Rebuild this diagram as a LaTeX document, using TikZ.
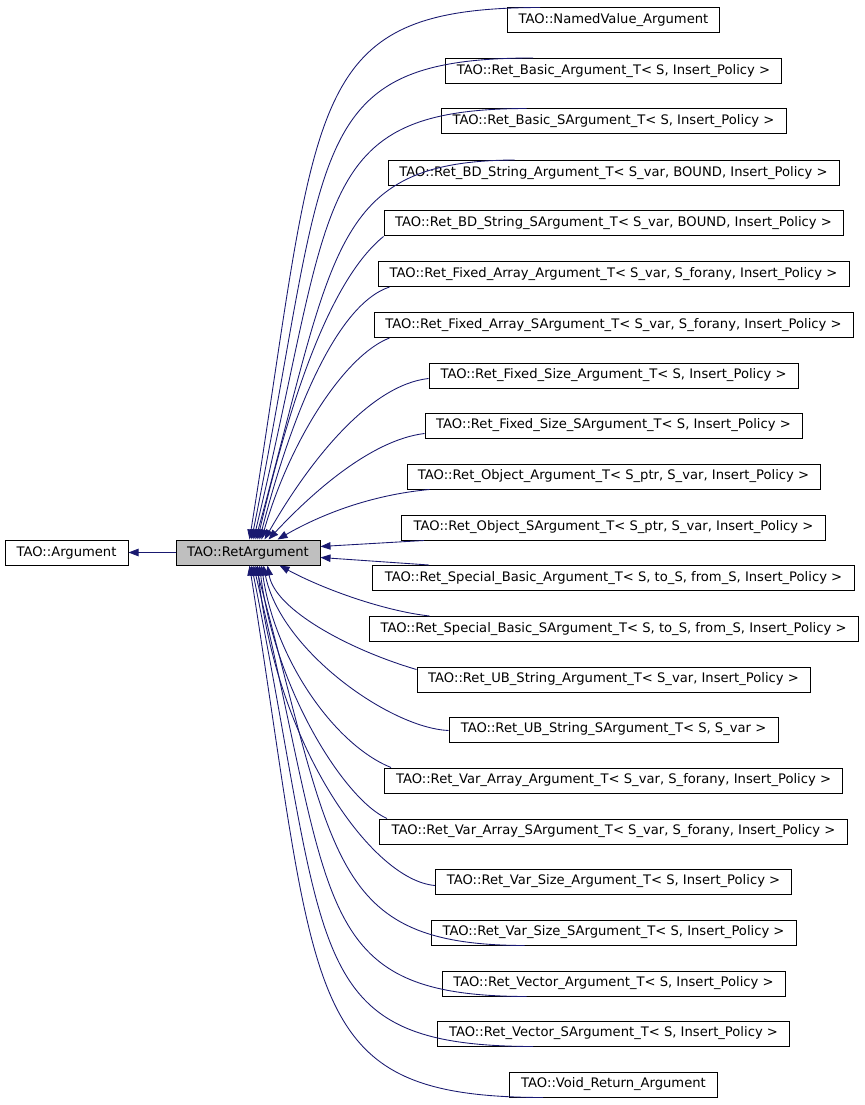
\documentclass[tikz,border=0pt]{standalone}
\usepackage{fontspec}
\setmainfont{DejaVu Sans}
\usetikzlibrary{arrows.meta,calc}
\definecolor{edgeblue}{HTML}{191970}
\definecolor{retgray}{HTML}{BFBFBF}
\begin{document}
\begin{tikzpicture}[x=0.75pt,y=-0.75pt,
  cls/.style={draw=black, line width=0.75pt, fill=white, minimum height=18.75pt,
    minimum width=#1*0.75pt, inner sep=0pt, font=\fontsize{9.85pt}{11pt}\selectfont},
  edge/.style={draw=edgeblue, line width=0.65pt, -{Triangle[length=7.5pt,width=5.6pt]}, fill=none}]
\fill[white] (0,0) rectangle (864,1105);
\useasboundingbox (0,0) rectangle (864,1105);

\node[cls=123] (arg) at (66.5,552.5) {TAO::Argument};
\node[cls=144, fill=retgray] (ret) at (248,552.5) {TAO::RetArgument};

\node[cls=212] (c1)  at (613.5,20.5)  {TAO::NamedValue\_Argument};
\node[cls=336] (c2)  at (613.5,71)    {TAO::Ret\_Basic\_Argument\_T< S, Insert\_Policy >};
\node[cls=345] (c3)  at (613.5,121.5) {TAO::Ret\_Basic\_SArgument\_T< S, Insert\_Policy >};
\node[cls=451] (c4)  at (613.5,173)   {TAO::Ret\_BD\_String\_Argument\_T< S\_var, BOUND, Insert\_Policy >};
\node[cls=459] (c5)  at (613.5,223.5) {TAO::Ret\_BD\_String\_SArgument\_T< S\_var, BOUND, Insert\_Policy >};
\node[cls=471] (c6)  at (613.5,274)   {TAO::Ret\_Fixed\_Array\_Argument\_T< S\_var, S\_forany, Insert\_Policy >};
\node[cls=479] (c7)  at (613.5,325)   {TAO::Ret\_Fixed\_Array\_SArgument\_T< S\_var, S\_forany, Insert\_Policy >};
\node[cls=369] (c8)  at (613.5,375.5) {TAO::Ret\_Fixed\_Size\_Argument\_T< S, Insert\_Policy >};
\node[cls=377] (c9)  at (613.5,425.5) {TAO::Ret\_Fixed\_Size\_SArgument\_T< S, Insert\_Policy >};
\node[cls=413] (c10) at (613.5,476.5) {TAO::Ret\_Object\_Argument\_T< S\_ptr, S\_var, Insert\_Policy >};
\node[cls=424] (c11) at (613.5,527.5) {TAO::Ret\_Object\_SArgument\_T< S\_ptr, S\_var, Insert\_Policy >};
\node[cls=482] (c12) at (613.5,578)   {TAO::Ret\_Special\_Basic\_Argument\_T< S, to\_S, from\_S, Insert\_Policy >};
\node[cls=489] (c13) at (613.5,629)   {TAO::Ret\_Special\_Basic\_SArgument\_T< S, to\_S, from\_S, Insert\_Policy >};
\node[cls=393] (c14) at (613.5,679.5) {TAO::Ret\_UB\_String\_Argument\_T< S\_var, Insert\_Policy >};
\node[cls=329] (c15) at (613.5,729.5) {TAO::Ret\_UB\_String\_SArgument\_T< S, S\_var >};
\node[cls=458] (c16) at (613.5,780.5) {TAO::Ret\_Var\_Array\_Argument\_T< S\_var, S\_forany, Insert\_Policy >};
\node[cls=468] (c17) at (613.5,831.5) {TAO::Ret\_Var\_Array\_SArgument\_T< S\_var, S\_forany, Insert\_Policy >};
\node[cls=356] (c18) at (613.5,881.5) {TAO::Ret\_Var\_Size\_Argument\_T< S, Insert\_Policy >};
\node[cls=365] (c19) at (613.5,932.5) {TAO::Ret\_Var\_Size\_SArgument\_T< S, Insert\_Policy >};
\node[cls=343] (c20) at (613.5,983.5) {TAO::Ret\_Vector\_Argument\_T< S, Insert\_Policy >};
\node[cls=352] (c21) at (613.5,1033.5){TAO::Ret\_Vector\_SArgument\_T< S, Insert\_Policy >};
\node[cls=208] (c22) at (613.5,1084.5){TAO::Void\_Return\_Argument};

% parent link
\draw[edge] (ret.west) -- (arg.east);

% upper children
\draw[edge] ($(c1.north west)+(33,0)$) .. controls (300,8) and (320,100) .. ($(ret.north west)+(74,0)$);
\draw[edge] ($(c2.north west)+(88,0)$) .. controls (300,58) and (330,150) .. ($(ret.north west)+(76,0)$);
\draw[edge] ($(c3.north west)+(86,0)$) .. controls (310,109) and (335,200) .. ($(ret.north west)+(78,0)$);
\draw[edge] ($(c4.north west)+(127,0)$) .. controls (330,161) and (335,250) .. ($(ret.north west)+(80,0)$);
\draw[edge] (c5.south west) .. controls (330,280) and (290,400) .. ($(ret.north west)+(82,0)$);
\draw[edge] ($(c6.south west)+(12,0)$) .. controls (335,305) and (290,420) .. ($(ret.north west)+(84,0)$);
\draw[edge] ($(c7.south west)+(16,0)$) .. controls (345,355) and (290,440) .. ($(ret.north west)+(86,0)$);
\draw[edge] ($(c8.west)+(0,3)$) .. controls (370,385) and (310,460) .. ($(ret.north west)+(89,0)$);
\draw[edge] ($(c9.west)+(0,8)$) .. controls (370,440) and (310,495) .. ($(ret.north west)+(93,0)$);
\draw[edge] ($(c10.south west)+(23,0)$) .. controls (370,495) and (320,515) .. ($(ret.north west)+(102,0)$);

% side children
\draw[edge] ($(c11.south west)+(23,0)$) -- ($(ret.east)+(0,-6)$);
\draw[edge] ($(c12.north west)+(57,0)$) -- ($(ret.east)+(0,5)$);

% lower children
\draw[edge] ($(c13.north west)+(61,0)$) .. controls (385,611) and (325,590) .. ($(ret.south west)+(104,0)$);
\draw[edge] ($(c14.west)+(0,-10)$) .. controls (350,650) and (275,610) .. ($(ret.south west)+(92,0)$);
\draw[edge] ($(c15.west)+(0,1)$) .. controls (390,728) and (280,650) .. ($(ret.south west)+(88,0)$);
\draw[edge] ($(c16.north west)+(7,0)$) .. controls (335,745) and (275,660) .. ($(ret.south west)+(86,0)$);
\draw[edge] ($(c17.north west)+(8,0)$) .. controls (345,800) and (275,690) .. ($(ret.south west)+(84,0)$);
\draw[edge] ($(c18.west)+(0,4)$) .. controls (370,880) and (275,740) .. ($(ret.south west)+(82,0)$);
\draw[edge] ($(c19.south west)+(94,0)$) .. controls (330,945) and (335,860) .. ($(ret.south west)+(80,0)$);
\draw[edge] ($(c20.south west)+(85,0)$) .. controls (310,996) and (335,905) .. ($(ret.south west)+(78,0)$);
\draw[edge] ($(c21.south west)+(96,0)$) .. controls (300,1046) and (330,955) .. ($(ret.south west)+(76,0)$);
\draw[edge] ($(c22.south west)+(34,0)$) .. controls (300,1097) and (319,1005) .. ($(ret.south west)+(74,0)$);
\end{tikzpicture}
\end{document}
